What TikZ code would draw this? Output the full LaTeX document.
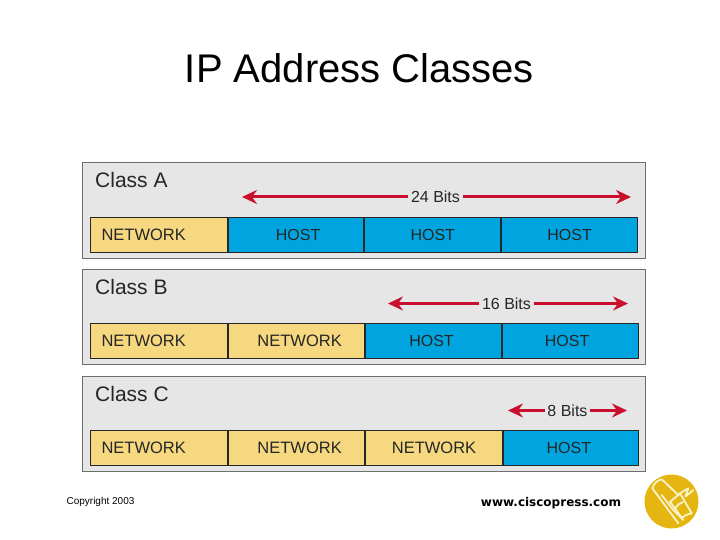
\documentclass[tikz,border=0pt]{standalone}
\usepackage{fontspec}
\setmainfont{Liberation Sans}
\newfontfamily\urlfont{DejaVu Sans}
\usetikzlibrary{arrows.meta,positioning,calc}
\definecolor{panelgray}{HTML}{E6E6E6}
\definecolor{panelline}{HTML}{6E6E6E}
\definecolor{netyellow}{HTML}{F5D87F}
\definecolor{hostblue}{HTML}{00A4DE}
\definecolor{bitsred}{HTML}{C8102E}
\definecolor{logogold}{HTML}{E5B611}
\definecolor{logocream}{HTML}{FBF3C8}
\tikzset{
    classpanel/.style={draw=panelline, fill=panelgray, line width=1pt, inner sep=0pt,
        minimum width=563pt, minimum height=95pt},
    netcell/.style={draw=black!85, fill=netyellow, line width=0.9pt, inner sep=0pt,
        font=\fontsize{16.5}{16.5}\selectfont, text=black!85, minimum height=35pt},
    hostcell/.style={draw=black!85, fill=hostblue, line width=0.9pt, inner sep=0pt,
        font=\fontsize{16}{16}\selectfont, text=black!85, minimum height=35pt},
    classname/.style={font=\fontsize{21}{21}\selectfont, text=black!85, inner sep=0pt, anchor=west},
    bitslabel/.style={font=\fontsize{16}{16}\selectfont, text=black!85, inner sep=2.5pt},
    bitsarrow/.style={-{Stealth[length=15pt,width=14pt,inset=5pt]}, bitsred, line width=3pt},
    logoline/.style={logocream, line width=1.8pt, line join=round, line cap=round}
}
\begin{document}
\begin{tikzpicture}[x=1pt,y=-1pt]
\useasboundingbox (0,0) rectangle (720,540);
\node[font=\fontsize{40}{40}\selectfont, inner sep=0pt] (title) at (359.5,68) {IP Address Classes};
% class A
\node[classpanel] (panelA) at (363.5,210.5) {};
\node[classname] (nameA) at (95,180) {Class A};
\node[netcell, minimum width=137.5pt] (a1) at (158.7,234.5) {\hspace*{-30pt}NETWORK};
\node[hostcell, minimum width=135.5pt, right=0pt of a1] (a2) {\hspace*{4pt}HOST};
\node[hostcell, minimum width=136pt, right=0pt of a2] (a3) {HOST};
\node[hostcell, minimum width=136pt, right=0pt of a3] (a4) {HOST};
\node[bitslabel] (bitsA) at (435.5,197) {24 Bits};
\coordinate (aL) at (242,197);
\coordinate (aR) at (631,197);
\draw[bitsarrow] (bitsA) -- (aL);
\draw[bitsarrow] (bitsA) -- (aR);
% class B
\node[classpanel] (panelB) at (363.5,316.5) {};
\node[classname] (nameB) at (95,287) {Class B};
\node[netcell, minimum width=137.5pt] (b1) at (158.7,341) {\hspace*{-30pt}NETWORK};
\node[netcell, minimum width=136.5pt, right=0pt of b1] (b2) {\hspace*{6pt}NETWORK};
\node[hostcell, minimum width=135.5pt, right=0pt of b2] (b3) {\hspace*{-4pt}HOST};
\node[hostcell, minimum width=136pt, right=0pt of b3] (b4) {\hspace*{-6pt}HOST};
\node[bitslabel] (bitsB) at (506.5,303.5) {16 Bits};
\coordinate (bL) at (388,303.5);
\coordinate (bR) at (628,303.5);
\draw[bitsarrow] (bitsB) -- (bL);
\draw[bitsarrow] (bitsB) -- (bR);
% class C
\node[classpanel] (panelC) at (363.5,423.5) {};
\node[classname] (nameC) at (95,394) {Class C};
\node[netcell, minimum width=137.5pt] (c1) at (158.7,448) {\hspace*{-30pt}NETWORK};
\node[netcell, minimum width=136.5pt, right=0pt of c1] (c2) {\hspace*{6pt}NETWORK};
\node[netcell, minimum width=136.5pt, right=0pt of c2] (c3) {NETWORK};
\node[hostcell, minimum width=135.5pt, right=0pt of c3] (c4) {\hspace*{-4pt}HOST};
\node[bitslabel] (bitsC) at (567.5,410.5) {8 Bits};
\coordinate (cL) at (508,410.5);
\coordinate (cR) at (627,410.5);
\draw[bitsarrow] (bitsC) -- (cL);
\draw[bitsarrow] (bitsC) -- (cR);
% footer
\node[font=\fontsize{10}{10}\selectfont, inner sep=0pt] (copy) at (100.5,501.5) {Copyright 2003};
\node[font=\urlfont\fontsize{12}{12}\selectfont\bfseries, inner sep=0pt] (url) at (551,503) {www.ciscopress.com};
% logo
\fill[logogold] (671.5,501.5) circle (27);
\draw[logoline] (678.3,523.3) -- (652.3,488.3) .. controls (654,483) and (658,480) .. (661.7,479.3) -- (678.3,495) -- (670,501.7);
\draw[logoline] (661.7,495) -- (673.3,510) -- (683.3,520);
\draw[logoline] (670,501.7) -- (682,518) .. controls (685,515) and (688,514) .. (691.7,513.3) -- (680,493.3) -- (678.3,495);
\draw[logoline] (680,493.3) -- (688.3,488.3) -- (685.5,496.5) -- (693.3,490);
\draw[logoline] (675,509) .. controls (677,505) and (680,503) .. (683,502);
\end{tikzpicture}
\end{document}
